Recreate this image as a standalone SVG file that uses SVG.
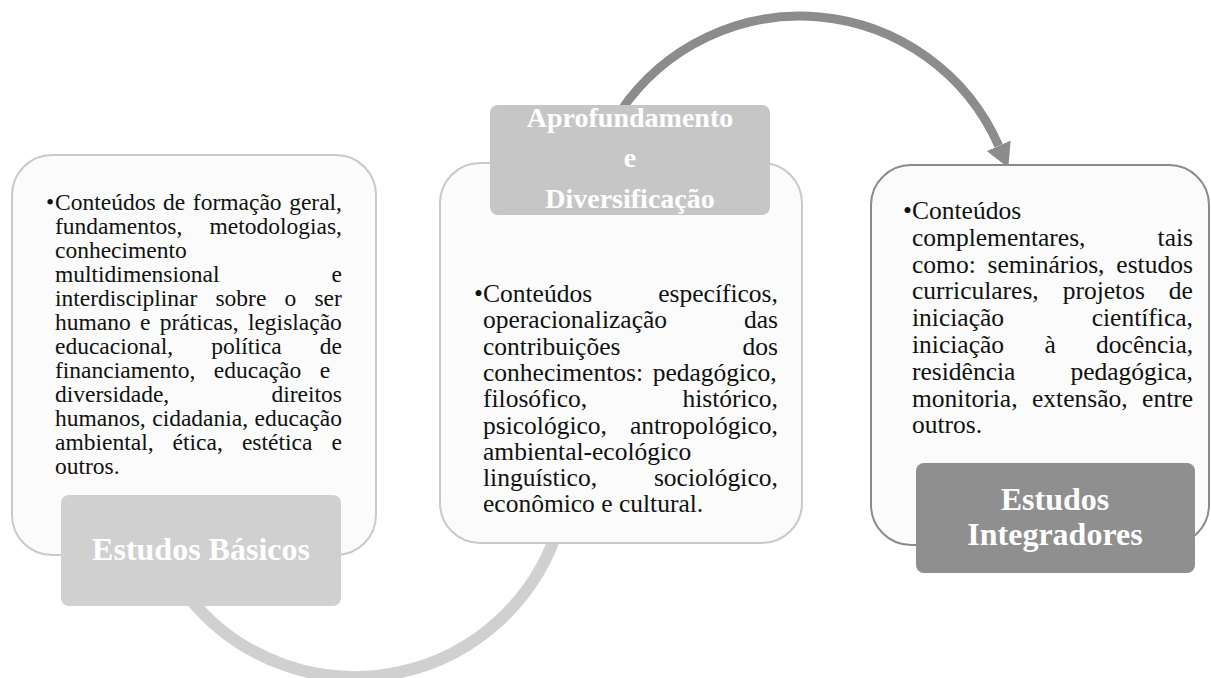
<svg xmlns="http://www.w3.org/2000/svg" width="1211" height="678" viewBox="0 0 1211 678">
<style>
.box{fill:#fbfbfb;stroke:#c9c9c9;stroke-width:2}
.box3{fill:#fbfbfb;stroke:#8a8a8a;stroke-width:2}
.t{font-family:"Liberation Serif","Times New Roman",serif;fill:#111}
.tl{font-size:23.5px}
.tm{font-size:25.5px}
.lab{font-family:"Liberation Serif","Times New Roman",serif;font-weight:bold;fill:#fff;text-anchor:middle}
</style>
<defs>
<marker id="ahDark" markerUnits="userSpaceOnUse" viewBox="0 0 24 26" refX="0" refY="13" markerWidth="24" markerHeight="26" orient="auto"><path d="M0,0 L24,13 L0,26 z" fill="#8c8c8c"/></marker>
<marker id="ahLight" markerUnits="userSpaceOnUse" viewBox="0 0 26 30" refX="0" refY="15" markerWidth="26" markerHeight="30" orient="auto"><path d="M0,0 L26,15 L0,30 z" fill="#d0d0d0"/></marker>
</defs>
<rect width="1211" height="678" fill="#fff"/>
<g id="connectors">
<path d="M 620 112 A 217 217 0 0 1 998.7 145.8" fill="none" stroke="#8c8c8c" stroke-width="9" marker-end="url(#ahDark)"/>
<path d="M 191 600 A 213 213 0 0 0 559.7 522.7" fill="none" stroke="#d0d0d0" stroke-width="12" marker-end="url(#ahLight)"/>
</g>
<g id="node-basicos">
<rect class="box" x="12" y="155" width="364" height="400" rx="40"/>
<g class="t tl">
<text y="210" word-spacing="1.7"><tspan x="46">•</tspan><tspan x="55">Conteúdos de formação geral,</tspan></text>
<text x="55" y="234" word-spacing="21.3">fundamentos, metodologias,</text>
<text x="55" y="258">conhecimento</text>
<text x="55" y="282" word-spacing="106.2">multidimensional e</text>
<text x="55" y="306" word-spacing="12.3">interdisciplinar sobre o ser</text>
<text x="55" y="330" word-spacing="3.4">humano e práticas, legislação</text>
<text x="55" y="354" word-spacing="32.2">educacional, política de</text>
<text x="55" y="378" word-spacing="12.7">financiamento, educação e</text>
<text x="55" y="402" word-spacing="96.4">diversidade, direitos</text>
<text x="55" y="426" word-spacing="0.6">humanos, cidadania, educação</text>
<text x="55" y="450" word-spacing="13.2">ambiental, ética, estética e</text>
<text x="55" y="474">outros.</text>
</g>
<rect x="61" y="495" width="280" height="111" rx="8" fill="#d0d0d0"/>
<text class="lab" x="201" y="560" font-size="32">Estudos Básicos</text>
</g>
<g id="node-aprofundamento">
<rect class="box" x="440" y="163" width="362" height="380" rx="40"/>
<g class="t tm">
<text y="302" word-spacing="59.8"><tspan x="474">•</tspan><tspan x="483">Conteúdos específicos,</tspan></text>
<text x="483" y="328" word-spacing="70.5">operacionalização das</text>
<text x="483" y="355" word-spacing="115.8">contribuições dos</text>
<text x="483" y="381" word-spacing="3.3">conhecimentos: pedagógico,</text>
<text x="483" y="407" word-spacing="88.9">filosófico, histórico,</text>
<text x="483" y="434" word-spacing="16.6">psicológico, antropológico,</text>
<text x="483" y="460">ambiental-ecológico</text>
<text x="483" y="486" word-spacing="50.5">linguístico, sociológico,</text>
<text x="483" y="512">econômico e cultural.</text>
</g>
<rect x="490" y="105" width="280" height="110" rx="8" fill="#c6c6c6"/>
<g class="lab" font-size="28">
<text x="630" y="127">Aprofundamento</text>
<text x="630" y="167">e</text>
<text x="630" y="208">Diversificação</text>
</g>
</g>
<g id="node-integradores">
<rect class="box3" x="871" y="165" width="338" height="380" rx="40"/>
<g class="t tm">
<text y="219"><tspan x="903">•</tspan><tspan x="912">Conteúdos</tspan></text>
<text x="912" y="246" word-spacing="65.7">complementares, tais</text>
<text x="912" y="273" word-spacing="5.5">como: seminários, estudos</text>
<text x="912" y="299" word-spacing="17.6">curriculares, projetos de</text>
<text x="912" y="326" word-spacing="81.3">iniciação científica,</text>
<text x="912" y="353" word-spacing="34">iniciação à docência,</text>
<text x="912" y="380" word-spacing="48.7">residência pedagógica,</text>
<text x="912" y="407" word-spacing="8.1">monitoria, extensão, entre</text>
<text x="912" y="433">outros.</text>
</g>
<rect x="916" y="463" width="279" height="110" rx="8" fill="#8f8f8f"/>
<g class="lab" font-size="32">
<text x="1055" y="510">Estudos</text>
<text x="1055" y="545">Integradores</text>
</g>
</g>
</svg>
